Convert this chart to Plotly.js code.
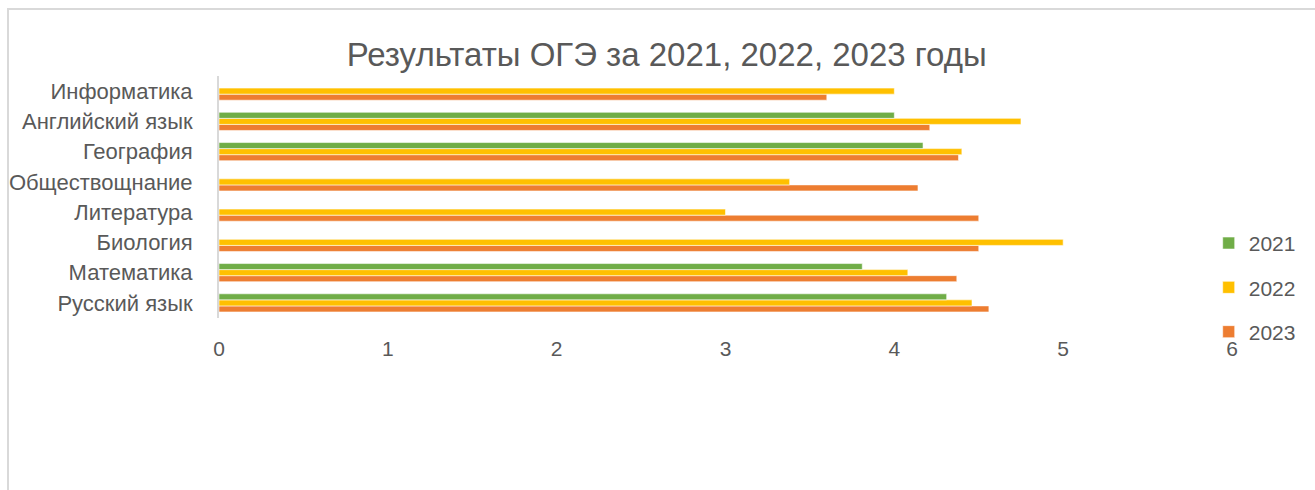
<!DOCTYPE html>
<html>
<head>
<meta charset="utf-8">
<script src="https://cdn.plot.ly/plotly-3.0.1.min.js"></script>
<style>
  html, body { margin: 0; padding: 0; background: #fff; }
  #chart { width: 1315px; height: 490px; }
  #frame { position: absolute; left: 7px; top: 8px; width: 1400px; height: 600px;
           border-left: 2px solid #d9d9d9; border-top: 2px solid #d9d9d9; pointer-events: none; }
</style>
</head>
<body>
<div id="chart"></div>
<div id="frame"></div>
<script>
// Categories, bottom to top as drawn
const subjects = ["Русский язык", "Математика", "Биология", "Литература", "Обществощнание", "География", "Английский язык", "Информатика"];
const v2021 = [4.31, 3.81, null, null, null, 4.17, 4.0, null];
const v2022 = [4.46, 4.08, 5.0, 3.0, 3.38, 4.40, 4.75, 4.0];
const v2023 = [4.56, 4.37, 4.5, 4.5, 4.14, 4.38, 4.21, 3.6];
const seriesNames = ["2021", "2022", "2023"];
const seriesColors = ["#70AD47", "#FFC000", "#ED7D31"];
const xTicks = [0, 1, 2, 3, 4, 5, 6];

const font = "Liberation Sans, Arial, sans-serif";
const textColor = "#595959";

function mk(i, vals) {
  return {
    type: "bar", orientation: "h",
    name: seriesNames[i], x: vals, y: subjects,
    legendgroup: seriesNames[i], legendrank: i + 1,
    marker: { color: seriesColors[i], line: { color: "rgba(255,255,255,0.7)", width: 0.8 } },
    hoverinfo: "x+y+name"
  };
}
// Plotly puts the first horizontal trace lowest in each group, so 2023 first
const data = [mk(2, v2023), mk(1, v2022), mk(0, v2021)];

const layout = {
  width: 1315, height: 490,
  margin: { l: 219, r: 83, t: 76, b: 172 },
  paper_bgcolor: "#fff", plot_bgcolor: "#fff",
  font: { family: font, color: textColor, size: 21 },
  title: { text: "Результаты ОГЭ за 2021, 2022, 2023 годы",
           font: { family: font, size: 33, color: textColor },
           x: 0.507, xanchor: "center", y: 0.888, yanchor: "middle" },
  barmode: "group", bargap: 0.4, bargroupgap: 0,
  xaxis: {
    range: [0, 6], tickvals: xTicks, ticktext: xTicks.map(String),
    showgrid: false, zeroline: false, showline: false,
    ticks: "outside", ticklen: 12, tickcolor: "rgba(0,0,0,0)",
    tickfont: { family: font, size: 21, color: textColor }
  },
  yaxis: {
    type: "category", categoryorder: "array", categoryarray: subjects,
    showgrid: false, zeroline: false, showline: true, linecolor: "#d9d9d9", linewidth: 2,
    ticks: "outside", ticklen: 20, tickcolor: "rgba(0,0,0,0)",
    tickfont: { family: font, size: 22, color: textColor }
  },
  showlegend: true,
  legend: {
    x: 0.977, xanchor: "left", y: 0.393, yanchor: "top",
    traceorder: "grouped", tracegroupgap: 14,
    font: { family: font, size: 21, color: textColor },
    bgcolor: "rgba(0,0,0,0)", itemwidth: 30
  }
};

Plotly.newPlot("chart", data, layout, { displayModeBar: false, staticPlot: true });
</script>
</body>
</html>
